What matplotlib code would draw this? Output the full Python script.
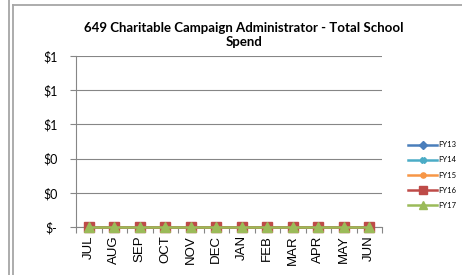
import matplotlib
matplotlib.use("Agg")
import matplotlib.pyplot as plt
from matplotlib.lines import Line2D
from matplotlib.ticker import FuncFormatter, MultipleLocator, FixedLocator

months = ["JUL", "AUG", "SEP", "OCT", "NOV", "DEC", "JAN", "FEB", "MAR", "APR", "MAY", "JUN"]
series_names = ["FY13", "FY14", "FY15", "FY16", "FY17"]
fy13 = [0, 0, 0, 0, 0, 0, 0, 0, 0, 0, 0, 0]
fy14 = [0, 0, 0, 0, 0, 0, 0, 0, 0, 0, 0, 0]
fy15 = [0, 0, 0, 0, 0, 0, 0, 0, 0, 0, 0, 0]
fy16 = [0, 0, 0, 0, 0, 0, 0, 0, 0, 0, 0, 0]
fy17 = [0, 0, 0, 0, 0, 0, 0, 0, 0, 0, 0, 0]
series_values = [fy13, fy14, fy15, fy16, fy17]
colors = ["#4A7EBB", "#4BACC6", "#F79646", "#BE4B48", "#9BBB59"]
markers = ["D", "X", "o", "s", "^"]
msizes = [5, 5, 5, 7, 7]

plt.rcParams['font.family'] = ['Lato', 'DejaVu Sans']

fig = plt.figure(figsize=(4.62, 2.75), dpi=100)
W, H = 462, 275

# frame lines
fig.add_artist(Line2D([8.5 / W, 8.5 / W], [0, 1], transform=fig.transFigure, color="#A6A6A6", lw=1.3))
fig.add_artist(Line2D([12.5 / W, 12.5 / W], [0, 1 - 4.5 / H], transform=fig.transFigure, color="#A6A6A6", lw=1.3))
fig.add_artist(Line2D([12.5 / W, 1], [1 - 4.5 / H, 1 - 4.5 / H], transform=fig.transFigure, color="#A6A6A6", lw=1.3))

ax = fig.add_axes([76 / W, 1 - 227 / H, (382 - 76) / W, (227 - 56) / H])
x = list(range(len(months)))
for name, vals, c, m, ms in zip(series_names, series_values, colors, markers, msizes):
    ax.plot(x, vals, color=c, marker=m, markersize=ms, lw=1.8, label=name,
            markeredgecolor=c, clip_on=False, zorder=3)

ax.set_xlim(-0.5, 11.5)
ax.set_ylim(0, 1.0)
ax.yaxis.set_major_locator(MultipleLocator(0.2))

def fmt(v, pos):
    r = round(v)
    if abs(v) < 1e-9:
        return "$-"
    return "$%d" % r

ax.yaxis.set_major_formatter(FuncFormatter(fmt))
ax.grid(axis="y", color="#868686", lw=0.8)
ax.set_axisbelow(True)
for s in ["top", "right"]:
    ax.spines[s].set_visible(False)
ax.spines["left"].set_color("#868686")
ax.spines["bottom"].set_color("#868686")
ax.spines["left"].set_linewidth(0.8)
ax.spines["bottom"].set_linewidth(0.8)

ax.set_xticks(x)
ax.set_xticklabels(months, rotation=90, fontsize=9.5, family=['Liberation Sans'])
ax.tick_params(axis="x", which="major", length=0, pad=6)
ax.xaxis.set_minor_locator(FixedLocator([i - 0.5 for i in range(13)]))
ax.tick_params(axis="x", which="minor", length=4, color="#868686", width=0.8)
ax.tick_params(axis="y", length=4, color="#868686", width=0.8, labelsize=9, pad=14)
for lab in ax.get_yticklabels():
    lab.set_horizontalalignment("center")

fig.text(244 / W, 1 - 35 / H, "649 Charitable Campaign Administrator - Total School\nSpend",
         ha="center", va="center", fontsize=9.5, fontweight="bold", linespacing=1.15)

handles = [Line2D([0], [0], color=c, marker=m, markersize=ms * 0.75, lw=1.8, markeredgecolor=c)
           for c, m, ms in zip(colors, markers, msizes)]
fig.legend(handles, series_names, loc="center left", bbox_to_anchor=(408 / W, 1 - 175 / H),
           frameon=False, fontsize=5.5, handlelength=3.8, handletextpad=0.2, labelspacing=1.05,
           borderaxespad=0, borderpad=0)

fig.savefig("out.png", dpi=100)
